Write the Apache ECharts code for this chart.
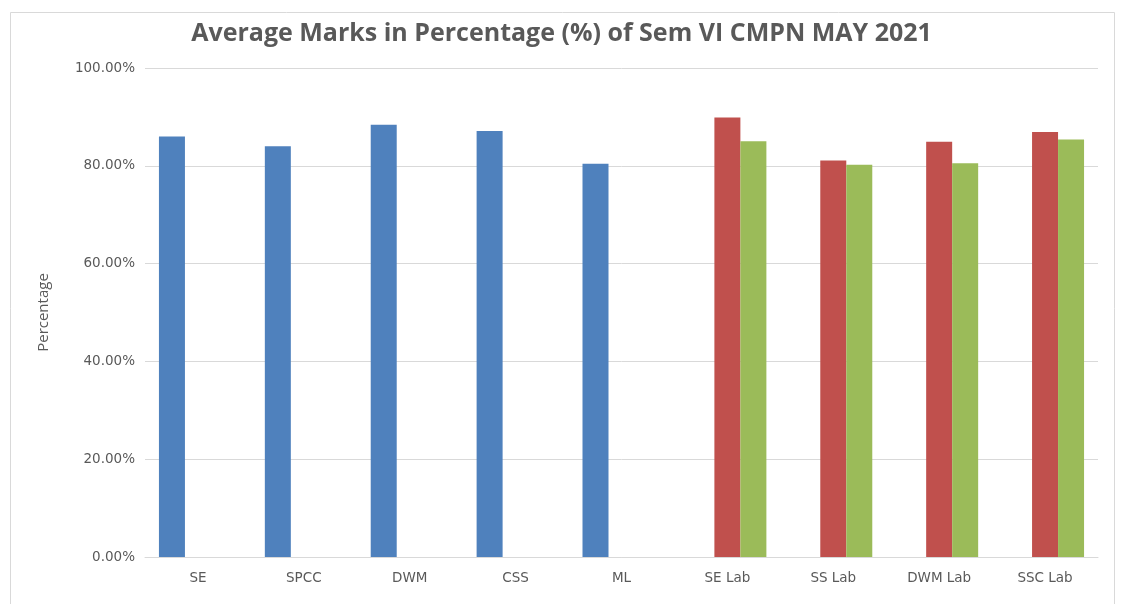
<!DOCTYPE html>
<html>
<head>
<meta charset="utf-8">
<script src="https://cdn.jsdelivr.net/npm/echarts@6/dist/echarts.min.js"></script>
<style>
  html, body { margin: 0; padding: 0; background: #fff; }
  #chart1 { width: 1123px; height: 604px; }
</style>
</head>
<body>
<div id="chart1"></div>
<script>
// subjects on the x axis
var subjects = ['SE', 'SPCC', 'DWM', 'CSS', 'ML', 'SE Lab', 'SS Lab', 'DWM Lab', 'SSC Lab'];
// theory papers (blue), labs come in two parts (red / green)
var theory = [86.0, 84.0, 88.4, 87.1, 80.4, null, null, null, null];
var labPart1 = [null, null, null, null, null, 89.9, 81.1, 84.9, 86.9];
var labPart2 = [null, null, null, null, null, 85.0, 80.2, 80.5, 85.4];
var yTicks = [0, 20, 40, 60, 80, 100];

var dom = document.getElementById('chart1');
var myChart = echarts.init(dom);
var txt = '#595959';

var option = {
  animation: false,
  backgroundColor: '#fff',
  title: {
    text: 'Average Marks in Percentage (%) of Sem VI CMPN MAY 2021',
    left: 'center',
    top: 16,
    textStyle: {
      fontFamily: 'Open Sans',
      fontSize: 25,
      fontWeight: 'bold',
      color: txt
    }
  },
  graphic: [
    {
      type: 'rect',
      left: 8,
      top: 10,
      shape: { width: 1104, height: 600 },
      style: { fill: 'none', stroke: '#d9d9d9', lineWidth: 1 },
      silent: true
    }
  ],
  grid: { left: 145, right: 25, top: 68, bottom: 47 },
  xAxis: {
    type: 'category',
    data: subjects,
    axisLine: { lineStyle: { color: '#d9d9d9' } },
    axisTick: { show: false },
    axisLabel: {
      color: txt,
      fontFamily: 'DejaVu Sans',
      fontSize: 13.5,
      margin: 14
    }
  },
  yAxis: {
    type: 'value',
    min: yTicks[0],
    max: yTicks[yTicks.length - 1],
    interval: 20,
    name: 'Percentage',
    nameLocation: 'middle',
    nameGap: 94,
    nameTextStyle: { color: txt, fontFamily: 'Open Sans', fontSize: 15 },
    axisLine: { show: false },
    axisTick: { show: false },
    splitLine: { lineStyle: { color: '#d9d9d9' } },
    axisLabel: {
      color: txt,
      fontFamily: 'DejaVu Sans',
      fontSize: 13.5,
      margin: 10,
      formatter: function (v) { return v.toFixed(2) + '%'; }
    }
  },
  series: [
    { name: 'Theory', type: 'bar', data: theory, barWidth: 26, barGap: '0%', itemStyle: { color: '#4f81bd' } },
    { name: 'Lab 1', type: 'bar', data: labPart1, barWidth: 26, barGap: '0%', itemStyle: { color: '#c0504d' } },
    { name: 'Lab 2', type: 'bar', data: labPart2, barWidth: 26, barGap: '0%', itemStyle: { color: '#9bbb59' } }
  ]
};

myChart.setOption(option);
</script>
</body>
</html>
